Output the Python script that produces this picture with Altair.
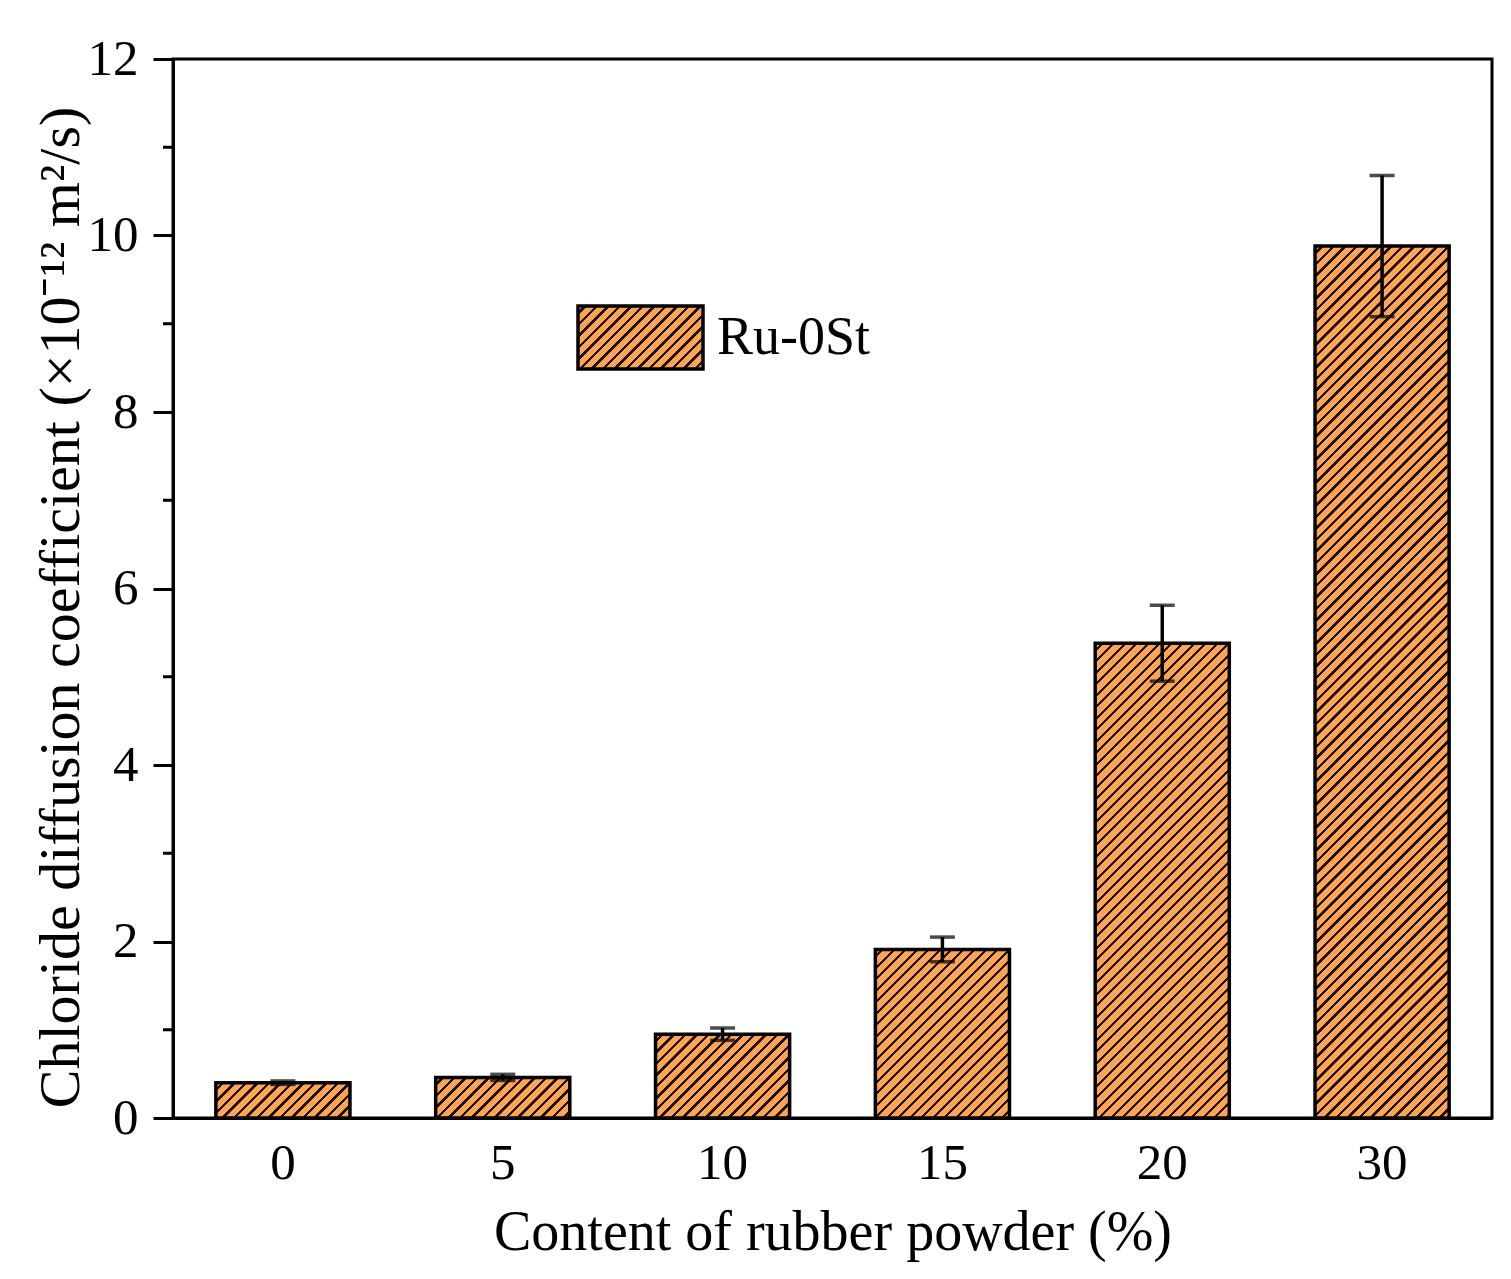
import altair as alt
import pandas as pd

# ---------------- data ----------------
categories = ["0", "5", "10", "15", "20", "30"]
values = [0.40, 0.46, 0.95, 1.91, 5.38, 9.88]
errors = [0.02, 0.035, 0.07, 0.14, 0.43, 0.80]
series_name = "Ru-0St"
y_ticks = [0, 2, 4, 6, 8, 10, 12]
y_minor_ticks = [1, 3, 5, 7, 9, 11]

x_title = "Content of rubber powder (%)"
y_title = "Chloride diffusion coefficient (\u00d710\u207b\u00b9\u00b2 m\u00b2/s)"

# ---------------- layout / style ----------------
W, H = 1319, 1059
Y_MAX = 12
PAD_INNER, PAD_OUTER = 0.39, 0.195
FILL = "#FFA455"
HATCH = "#1c1209"
FONT = "Liberation Serif"

step = W / (len(categories) - PAD_INNER + 2 * PAD_OUTER)
bar_w = step * (1 - PAD_INNER)


def hatch(w, h, period=11.5, thick=3.3):
    """Linear gradient with sharp stops that draws '/' hatch lines."""
    L = w + h
    s = L / (w * w + h * h)
    stops = [{"offset": 0, "color": FILL}]
    pos = period / 2
    while pos + thick < L:
        a = round(pos / L, 6)
        b = round((pos + thick) / L, 6)
        stops += [
            {"offset": a, "color": FILL},
            {"offset": a, "color": HATCH},
            {"offset": b, "color": HATCH},
            {"offset": b, "color": FILL},
        ]
        pos += period
    stops.append({"offset": 1, "color": FILL})
    return {
        "gradient": "linear",
        "x1": 0, "y1": 0,
        "x2": round(w * s, 6), "y2": round(h * s, 6),
        "stops": stops,
    }


df = pd.DataFrame({
    "content": categories,
    "value": values,
    "lo": [v - e for v, e in zip(values, errors)],
    "hi": [v + e for v, e in zip(values, errors)],
})

x_scale = alt.Scale(domain=categories, paddingInner=PAD_INNER, paddingOuter=PAD_OUTER)
y_scale = alt.Scale(domain=[0, Y_MAX], nice=False, zero=True)

x_axis = alt.Axis(
    title=x_title, labelAngle=0, ticks=False, tickSize=0,
    labelPadding=60, labelBaseline="alphabetic",
    labelFont=FONT, labelFontSize=51, labelColor="black",
    titleFont=FONT, titleFontSize=56, titleFontWeight="normal", titleColor="black",
    titleBaseline="alphabetic", titleY=131,
    domainColor="black", domainWidth=3, grid=False,
)
y_axis = alt.Axis(
    title=y_title, values=y_ticks, format="d",
    tickSize=20, tickWidth=3, tickColor="black",
    labelPadding=15, labelFont=FONT, labelFontSize=51, labelColor="black",
    titleFont=FONT, titleFontSize=58, titleFontWeight="normal", titleColor="black",
    titleBaseline="alphabetic", titleX=-95, titleY=548,
    domainColor="black", domainWidth=3, grid=False,
)

X = alt.X("content:N", sort=categories, scale=x_scale, axis=x_axis)

base = alt.Chart(df)

layers = []
for c, v in zip(categories, values):
    h = v * H / Y_MAX
    layers.append(
        base.transform_filter(alt.datum.content == c)
        .mark_bar(fill=hatch(bar_w, h), stroke="black", strokeWidth=3.5)
        .encode(x=X, y=alt.Y("value:Q", scale=y_scale, axis=y_axis))
    )

err_rule = base.mark_rule(color="black", strokeWidth=3.5).encode(
    x=X,
    y=alt.Y("lo:Q", scale=y_scale, axis=y_axis),
    y2="hi:Q",
)
cap_lo = base.mark_tick(color="black", thickness=3.5, size=25).encode(
    x=X, y=alt.Y("lo:Q", scale=y_scale, axis=y_axis)
)
cap_hi = base.mark_tick(color="black", thickness=3.5, size=25).encode(
    x=X, y=alt.Y("hi:Q", scale=y_scale, axis=y_axis)
)

minor = alt.Chart(pd.DataFrame({"m": y_minor_ticks})).mark_rule(
    color="black", strokeWidth=3
).encode(
    y=alt.Y("m:Q", scale=y_scale, axis=y_axis),
    x=alt.value(-10),
    x2=alt.value(0),
)

# legend (drawn manually so the swatch carries the hatch)
leg_df = pd.DataFrame({"label": [series_name]})
leg_w, leg_h = 125, 63
leg_box = alt.Chart(leg_df).mark_rect(
    fill=hatch(leg_w, leg_h), stroke="black", strokeWidth=3.5
).encode(
    x=alt.value(405), x2=alt.value(405 + leg_w),
    y=alt.value(247), y2=alt.value(247 + leg_h),
)
leg_text = alt.Chart(leg_df).mark_text(
    font=FONT, fontSize=54, align="left", baseline="alphabetic", color="black"
).encode(
    x=alt.value(544), y=alt.value(295), text="label:N"
)

chart = alt.layer(
    *layers, err_rule, cap_lo, cap_hi, minor, leg_box, leg_text
).properties(
    width=W, height=H,
    padding={"left": 165, "top": 51, "right": 11, "bottom": 150},
    autosize=alt.AutoSizeParams(type="none"),
    background="white",
).configure_view(stroke="black", strokeWidth=3)

chart.save("out.html", embed_options={"renderer": "svg", "actions": False})
